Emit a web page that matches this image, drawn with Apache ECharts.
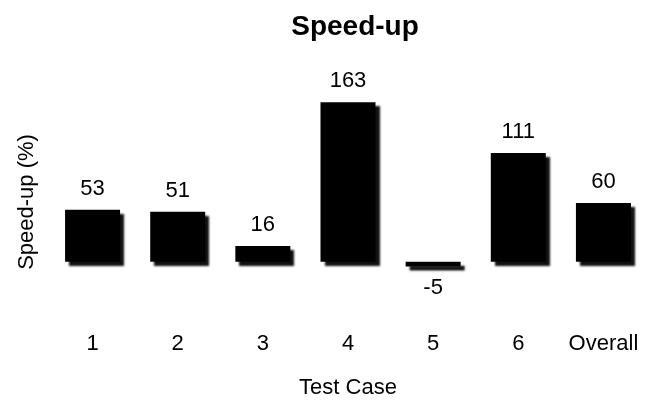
<!DOCTYPE html>
<html>
<head>
<meta charset="utf-8">
<script src="https://cdn.jsdelivr.net/npm/echarts@6/dist/echarts.min.js"></script>
<style>html,body{margin:0;padding:0;background:#fff;}#c{width:646px;height:404px;}</style>
</head>
<body>
<div id="c"></div>
<script>
var categories = ['1', '2', '3', '4', '5', '6', 'Overall'];
var speedup = [53, 51, 16, 163, -5, 111, 60];

var chart = echarts.init(document.getElementById('c'));
var font = 'Liberation Sans, Arial, Helvetica, sans-serif';
chart.setOption({
  backgroundColor: '#fff',
  animation: false,
  title: {
    text: 'Speed-up',
    left: 350,
    textAlign: 'center',
    top: 8,
    textStyle: { fontFamily: font, fontSize: 28, fontWeight: 'bold', color: '#000' }
  },
  grid: { left: 50, right: -4, top: 66, height: 278 },
  xAxis: {
    type: 'category',
    data: categories,
    axisLine: { show: false, onZero: false },
    axisTick: { show: false },
    axisLabel: { interval: 0, margin: -5, fontFamily: font, fontSize: 22, color: '#000' },
    name: 'Test Case',
    nameLocation: 'middle',
    nameGap: 39,
    nameTextStyle: { fontFamily: font, fontSize: 22, color: '#000' }
  },
  yAxis: {
    type: 'value',
    min: -78,
    max: 200,
    axisLine: { show: false },
    axisTick: { show: false },
    axisLabel: { show: false },
    splitLine: { show: false },
    name: 'Speed-up (%)',
    nameLocation: 'middle',
    nameGap: 12,
    nameTextStyle: { fontFamily: font, fontSize: 22, color: '#000' }
  },
  series: [{
    type: 'bar',
    barWidth: 55,
    data: speedup.map(function (v) {
      return { value: v, label: { position: v < 0 ? 'bottom' : 'top', distance: 10 } };
    }),
    itemStyle: { color: '#000', shadowColor: '#111', shadowBlur: 2, shadowOffsetX: 4, shadowOffsetY: 4 },
    label: { show: true, fontFamily: font, fontSize: 22, color: '#000' }
  }]
});
</script>
</body>
</html>
